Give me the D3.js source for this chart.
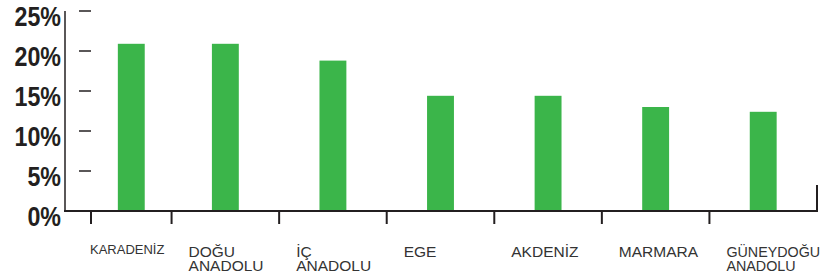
<!DOCTYPE html>
<html>
<head>
<meta charset="utf-8">
<script src="https://cdn.jsdelivr.net/npm/d3@7"></script>
<style>
  body { margin: 0; background: #fff; }
  .ylab { font-family: "Liberation Sans", Arial, sans-serif; font-weight: bold; fill: #231f20; }
  .xlab { font-family: "Liberation Sans", Arial, Helvetica, sans-serif; fill: #333; }
</style>
</head>
<body>
<div id="chart"></div>
<script>
const width = 821;
const height = 280;

// data
const regions = ['KARADENİZ', 'DOĞU ANADOLU', 'İÇ ANADOLU', 'EGE', 'AKDENİZ', 'MARMARA', 'GÜNEYDOĞU ANADOLU'];
const shares = [20.9, 20.9, 18.8, 14.4, 14.4, 13.0, 12.4];
const yTicks = [0, 5, 10, 15, 20, 25];
const labelSizes = [13, 15.5, 15.5, 15.5, 15.5, 15.5, 14.3];

const ink = '#231f20';
const green = '#3bb54a';
const firstTick = 91; // the first category mark sits inside the plot, not on the axis

const svg = d3.select('#chart')
  .append('svg')
  .attr('width', width)
  .attr('height', height);

const x = d3.scaleBand()
  .domain(regions)
  .range([64, 817])
  .paddingInner(0.75)
  .paddingOuter(0.375);

// band boundaries (ticks under the axis)
const step = x.step();
const bandStart = (d, i) => i === 0 ? firstTick : x(d) - x.paddingOuter() * step;
const bandEnd = (d) => x(d) + x.bandwidth() + x.paddingOuter() * step;
// bars are centred between neighbouring boundary ticks
const barX = (d, i) => (bandStart(d, i) + bandEnd(d)) / 2 - x.bandwidth() / 2;

const y = d3.scaleLinear()
  .domain([0, 25])
  .range([211, 11]);

// bars
svg.append('g').selectAll('rect')
  .data(regions)
  .enter().append('rect')
  .attr('x', barX)
  .attr('y', (d, i) => y(shares[i]))
  .attr('width', x.bandwidth())
  .attr('height', (d, i) => y(0) - y(shares[i]))
  .attr('fill', green);

// y axis line
svg.append('line')
  .attr('x1', 65).attr('x2', 65)
  .attr('y1', y(25)).attr('y2', y(0))
  .attr('stroke', ink).attr('stroke-width', 1.5);

// x axis line
svg.append('line')
  .attr('x1', 64).attr('x2', x.range()[1] + 1)
  .attr('y1', y(0)).attr('y2', y(0))
  .attr('stroke', ink).attr('stroke-width', 2);

// short end mark on the right
svg.append('line')
  .attr('x1', x.range()[1]).attr('x2', x.range()[1])
  .attr('y1', y(0) - 26).attr('y2', y(0))
  .attr('stroke', ink).attr('stroke-width', 2);

// y tick dashes (detached from the axis)
svg.append('g').selectAll('line')
  .data(yTicks.filter((t) => t > 0))
  .enter().append('line')
  .attr('x1', 79).attr('x2', 91)
  .attr('y1', (d) => y(d)).attr('y2', (d) => y(d))
  .attr('stroke', ink).attr('stroke-width', 1.5);

// y labels, condensed bold
svg.append('g').selectAll('text')
  .data(yTicks)
  .enter().append('text')
  .attr('class', 'ylab')
  .attr('transform', (d) => `translate(61,${y(d) + 15}) scale(0.83,1)`)
  .attr('text-anchor', 'end')
  .attr('font-size', 28)
  .text((d) => d + '%');

// x ticks at band boundaries
svg.append('g').selectAll('line')
  .data(regions)
  .enter().append('line')
  .attr('x1', bandStart)
  .attr('x2', bandStart)
  .attr('y1', y(0)).attr('y2', y(0) + 13)
  .attr('stroke', ink).attr('stroke-width', 2);

// x labels, one text per line
const lines = [];
regions.forEach((d, i) => {
  d.split(' ').forEach((p, k) => {
    lines.push({ text: p, i, k, d });
  });
});

svg.append('g').selectAll('text')
  .data(lines)
  .enter().append('text')
  .attr('class', 'xlab')
  .attr('x', (l) => l.i === 0 ? bandStart(l.d, 0) - 1 : bandStart(l.d, l.i) + 17)
  .attr('y', (l) => (l.i === 0 ? 254 : 257) + l.k * 13.5)
  .attr('font-size', (l) => labelSizes[l.i])
  .text((l) => l.text);
</script>
</body>
</html>
